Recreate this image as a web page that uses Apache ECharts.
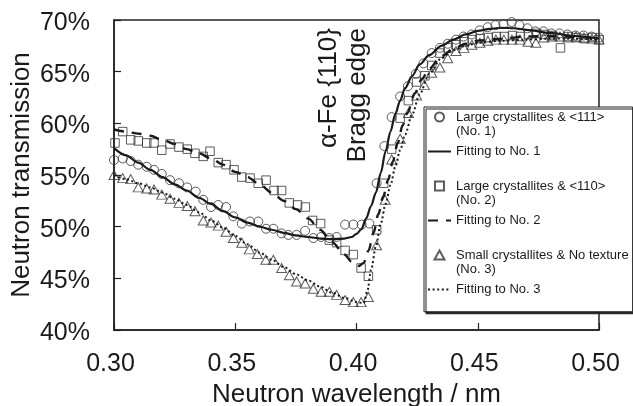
<!DOCTYPE html>
<html>
<head lang="en">
    <meta charset="UTF-8">
    <title>Neutron transmission</title>
    <style>
        html, body { margin: 0; padding: 0; background: #fff; }
        #chart { width: 633px; height: 406px; }
    </style>
</head>
<body>
<div id="chart"></div>
<script src="https://cdn.jsdelivr.net/npm/echarts@6/dist/echarts.min.js"></script>
<script>
    // measured points, wavelength in nm / transmission in %
    var no1Wavelength = [0.3000, 0.3036, 0.3069, 0.3100, 0.3135, 0.3165, 0.3197, 0.3231, 0.3268, 0.3302, 0.3337, 0.3368, 0.3400, 0.3430, 0.3462, 0.3492, 0.3527, 0.3561, 0.3595, 0.3627, 0.3657, 0.3691, 0.3719, 0.3753, 0.3788, 0.3822, 0.3854, 0.3888, 0.3918, 0.3953, 0.3987, 0.4021, 0.4053, 0.4083, 0.4115, 0.4145, 0.4180, 0.4212, 0.4245, 0.4276, 0.4310, 0.4344, 0.4376, 0.4410, 0.4441, 0.4475, 0.4508, 0.4541, 0.4573, 0.4606, 0.4640, 0.4672, 0.4705, 0.4738, 0.4771, 0.4804, 0.4837, 0.4870, 0.4903, 0.4936, 0.4969, 0.5000];
    var no1Transmission = [56.45, 56.6, 56.35, 56.0, 55.8, 55.5, 55.1, 54.5, 54.2, 53.8, 53.4, 52.6, 51.9, 52.1, 51.9, 51.0, 50.3, 50.5, 50.5, 49.8, 49.8, 49.35, 49.2, 49.2, 49.6, 48.9, 49.0, 48.9, 49.0, 50.2, 50.2, 50.2, 50.3, 54.2, 57.8, 60.6, 62.6, 63.6, 64.8, 65.8, 66.8, 67.3, 67.7, 68.1, 68.4, 68.6, 69.0, 69.3, 69.5, 69.6, 69.8, 69.5, 69.2, 68.9, 68.9, 68.7, 68.7, 68.6, 68.5, 68.5, 68.4, 68.3];

    var no2Wavelength = [0.3004, 0.3036, 0.3069, 0.3100, 0.3135, 0.3165, 0.3197, 0.3231, 0.3268, 0.3302, 0.3334, 0.3368, 0.3396, 0.3430, 0.3462, 0.3495, 0.3527, 0.3561, 0.3595, 0.3627, 0.3660, 0.3691, 0.3723, 0.3757, 0.3789, 0.3819, 0.3852, 0.3888, 0.3918, 0.3953, 0.3987, 0.4019, 0.4049, 0.4083, 0.4112, 0.4145, 0.4180, 0.4214, 0.4248, 0.4282, 0.4310, 0.4344, 0.4378, 0.4410, 0.4444, 0.4477, 0.4510, 0.4543, 0.4577, 0.4610, 0.4643, 0.4676, 0.4709, 0.4742, 0.4775, 0.4808, 0.4841, 0.4874, 0.4907, 0.4940, 0.4973, 0.5000];
    var no2Transmission = [58.1, 59.2, 58.4, 58.3, 58.1, 58.1, 57.4, 58.0, 57.7, 57.5, 57.1, 56.8, 57.3, 56.2, 56.0, 55.5, 54.8, 54.7, 54.2, 54.5, 53.5, 53.5, 52.3, 52.1, 51.9, 50.6, 50.3, 48.7, 48.45, 47.7, 47.3, 46.0, 45.2, 49.7, 54.2, 57.5, 60.5, 62.2, 64.0, 64.6, 65.6, 66.8, 67.3, 67.6, 67.9, 68.1, 68.2, 68.3, 68.4, 68.4, 68.5, 68.4, 68.6, 68.7, 68.6, 68.5, 67.3, 68.4, 68.3, 68.2, 68.3, 68.1];

    var no3Wavelength = [0.3000, 0.3036, 0.3069, 0.3100, 0.3135, 0.3165, 0.3197, 0.3231, 0.3268, 0.3302, 0.3334, 0.3368, 0.3400, 0.3430, 0.3462, 0.3492, 0.3527, 0.3558, 0.3591, 0.3626, 0.3657, 0.3691, 0.3723, 0.3753, 0.3788, 0.3822, 0.3854, 0.3888, 0.3918, 0.3953, 0.3987, 0.4019, 0.4049, 0.4083, 0.4118, 0.4145, 0.4180, 0.4214, 0.4248, 0.4280, 0.4310, 0.4344, 0.4376, 0.4410, 0.4443, 0.4476, 0.4509, 0.4542, 0.4575, 0.4608, 0.4641, 0.4674, 0.4707, 0.4740, 0.4773, 0.4806, 0.4839, 0.4872, 0.4905, 0.4938, 0.4971, 0.5000];
    var no3Transmission = [55.0, 54.7, 54.6, 53.8, 53.7, 53.6, 53.1, 52.7, 52.3, 52.0, 51.5, 50.6, 50.4, 50.1, 49.5, 48.9, 48.45, 47.8, 47.35, 46.8, 46.8, 46.0, 45.3, 44.7, 44.5, 44.0, 43.7, 43.7, 43.4, 42.9, 42.7, 42.7, 43.2, 48.2, 52.6, 56.5, 58.5, 61.0, 62.7, 63.7, 64.9, 65.4, 66.3, 67.0, 67.3, 67.6, 67.8, 68.0, 68.1, 68.1, 68.1, 68.1, 67.9, 67.8, 68.3, 68.4, 68.4, 68.3, 68.4, 68.3, 68.2, 68.1];

    // fitted curves
    var fit1Wavelength = [0.300, 0.305, 0.310, 0.315, 0.320, 0.325, 0.330, 0.335, 0.340, 0.345, 0.350, 0.355, 0.360, 0.365, 0.370, 0.375, 0.380, 0.385, 0.390, 0.395, 0.398, 0.400, 0.402, 0.404, 0.406, 0.408, 0.410, 0.412, 0.414, 0.416, 0.418, 0.420, 0.423, 0.426, 0.430, 0.435, 0.440, 0.445, 0.450, 0.455, 0.460, 0.465, 0.470, 0.480, 0.490, 0.500];
    var fit1Transmission = [57.6, 56.9, 56.2, 55.5, 54.8, 54.1, 53.5, 52.8, 52.2, 51.5, 50.9, 50.4, 50.0, 49.7, 49.4, 49.15, 49.0, 48.85, 48.8, 48.85, 49.0, 49.3, 49.75, 50.8, 52.0, 53.3, 55.2, 57.3, 59.2, 60.9, 62.2, 63.4, 64.6, 65.7, 66.6, 67.5, 68.1, 68.6, 68.95, 69.15, 69.25, 69.2, 69.05, 68.75, 68.45, 68.2];

    var fit2Wavelength = [0.300, 0.305, 0.310, 0.315, 0.320, 0.325, 0.330, 0.335, 0.340, 0.345, 0.350, 0.355, 0.360, 0.365, 0.370, 0.375, 0.380, 0.385, 0.390, 0.395, 0.398, 0.401, 0.403, 0.405, 0.407, 0.409, 0.411, 0.413, 0.415, 0.417, 0.419, 0.421, 0.424, 0.427, 0.430, 0.435, 0.440, 0.445, 0.450, 0.460, 0.470, 0.480, 0.490, 0.500];
    var fit2Transmission = [59.4, 59.2, 59.0, 58.8, 58.4, 58.0, 57.5, 57.1, 56.6, 56.0, 55.3, 54.8, 54.1, 53.3, 52.5, 51.7, 50.8, 49.7, 48.5, 47.3, 46.6, 46.2, 46.5, 47.7, 49.4, 51.2, 52.9, 54.5, 56.3, 58.1, 59.8, 61.0, 62.9, 64.3, 65.3, 66.5, 67.2, 67.7, 68.0, 68.2, 68.4, 68.45, 68.35, 68.2];

    var fit3Wavelength = [0.300, 0.305, 0.310, 0.315, 0.320, 0.325, 0.330, 0.335, 0.340, 0.345, 0.350, 0.355, 0.360, 0.365, 0.370, 0.375, 0.380, 0.385, 0.390, 0.395, 0.400, 0.403, 0.4045, 0.406, 0.408, 0.410, 0.412, 0.414, 0.416, 0.418, 0.420, 0.423, 0.426, 0.430, 0.435, 0.440, 0.445, 0.450, 0.460, 0.470, 0.480, 0.490, 0.500];
    var fit3Transmission = [55.0, 54.6, 54.2, 53.8, 53.3, 52.7, 52.1, 51.4, 50.6, 49.9, 49.1, 48.3, 47.5, 46.8, 46.1, 45.4, 44.8, 44.2, 43.6, 43.1, 42.7, 42.6, 43.8, 45.8, 48.1, 50.3, 52.2, 54.0, 55.8, 57.4, 58.9, 60.9, 62.8, 64.8, 66.3, 67.1, 67.5, 67.8, 68.0, 68.1, 68.2, 68.2, 68.1];

    var seriesNames = [
        'Large crystallites & <111>\n(No. 1)',
        'Fitting to No. 1',
        'Large crystallites & <110>\n(No. 2)',
        'Fitting to No. 2',
        'Small crystallites & No texture\n(No. 3)',
        'Fitting to No. 3'
    ];
    var xTicks = [0.30, 0.50, 0.05];   // min, max, step
    var yTicks = [40, 70, 5];

    var FONT = "'Liberation Sans', Arial, Helvetica, sans-serif";
    var INK = '#1a1a1a';

    function pairs(xs, ys) {
        return xs.map(function (x, i) { return [x, ys[i]]; });
    }

    function markerSeries(name, symbol, size, xs, ys) {
        return {
            name: name,
            type: 'scatter',
            symbol: symbol,
            symbolSize: size,
            clip: false,
            z: 3,
            itemStyle: { color: 'transparent', borderColor: '#333', borderWidth: 1 },
            data: pairs(xs, ys)
        };
    }

    function fitSeries(name, dash, width, xs, ys) {
        return {
            name: name,
            type: 'line',
            symbol: 'none',
            showSymbol: false,
            smooth: 0.3,
            smoothMonotone: 'x',
            z: 4,
            itemStyle: { color: INK },
            lineStyle: { color: INK, width: width, type: dash },
            data: pairs(xs, ys)
        };
    }

    // legend entries; the fit entries show only their line
    var legendData = seriesNames.map(function (name) {
        if (name.indexOf('Fitting') === 0) {
            return { name: name, itemStyle: { opacity: 0 } };
        }
        return { name: name };
    });

    var dom = document.getElementById("chart");
    var myChart = echarts.init(dom, null, { renderer: 'canvas' });
    var option = null;

    option = {
        animation: false,
        backgroundColor: '#fff',
        textStyle: { fontFamily: FONT },
        grid: {
            left: 114, right: 34, top: 20, bottom: 76,
            containLabel: false,
            outerBoundsMode: 'none',
            show: true, borderColor: '#222', borderWidth: 1.5
        },
        xAxis: {
            type: 'value',
            min: xTicks[0], max: xTicks[1], interval: xTicks[2],
            name: 'Neutron wavelength / nm',
            nameLocation: 'middle',
            nameGap: 52,
            nameMoveOverlap: false,
            nameTextStyle: { fontSize: 26, color: INK, fontFamily: FONT },
            axisLine: { lineStyle: { color: '#222', width: 1.5 } },
            axisTick: { inside: true, length: 7, lineStyle: { color: '#222', width: 1.2 } },
            axisLabel: {
                margin: 22, color: INK, fontFamily: FONT,
                formatter: function (v) { return '{t|' + v.toFixed(2) + '}'; },
                rich: { t: { fontSize: 25, fontFamily: FONT, color: INK, padding: [0, 7, 0, 0] } }
            },
            splitLine: { show: false }
        },
        yAxis: {
            type: 'value',
            min: yTicks[0], max: yTicks[1], interval: yTicks[2],
            name: 'Neutron transmission',
            nameLocation: 'middle',
            nameGap: 79,
            nameMoveOverlap: false,
            nameTextStyle: { fontSize: 26, color: INK, fontFamily: FONT },
            axisLine: { lineStyle: { color: '#222', width: 1.5 } },
            axisTick: { inside: true, length: 7, lineStyle: { color: '#222', width: 1.2 } },
            axisLabel: {
                margin: 24, color: INK, fontFamily: FONT,
                formatter: function (v) { return '{t|' + v + '%}'; },
                rich: { t: { fontSize: 25, fontFamily: FONT, color: INK, padding: [6, 0, 0, 0] } }
            },
            splitLine: { show: false }
        },
        legend: {
            orient: 'vertical',
            left: 424,
            top: 107,
            padding: [-11.75, 4, 15, 3],
            itemWidth: 23,
            itemHeight: 9,
            itemGap: 5.5,
            backgroundColor: '#fff',
            borderColor: '#222',
            borderWidth: 1,
            shadowColor: '#222',
            shadowOffsetX: 2,
            shadowOffsetY: 2,
            shadowBlur: 0,
            textStyle: { fontSize: 13, lineHeight: 14.5, color: INK, fontFamily: FONT },
            formatter: function (name) {
                // keep the symbol level with the first line of two-line entries
                return name.indexOf('\n') >= 0 ? '\n' + name : name;
            },
            data: legendData
        },
        graphic: [{
            type: 'text',
            x: 343.5,
            y: 28,
            rotation: Math.PI / 2,
            style: {
                text: 'α-Fe {110}\nBragg edge',
                fontSize: 26,
                fontFamily: FONT,
                fill: INK,
                align: 'right',
                verticalAlign: 'middle',
                lineHeight: 29
            }
        }],
        series: [
            markerSeries(seriesNames[0], 'circle', 9, no1Wavelength, no1Transmission),
            fitSeries(seriesNames[1], 'solid', 2.2, fit1Wavelength, fit1Transmission),
            markerSeries(seriesNames[2], 'path://M0,0H10V10H0Z', 8.5, no2Wavelength, no2Transmission),
            fitSeries(seriesNames[3], [10, 8], 2.4, fit2Wavelength, fit2Transmission),
            markerSeries(seriesNames[4], 'path://M5,0L10,9L0,9Z', [10, 9], no3Wavelength, no3Transmission),
            fitSeries(seriesNames[5], [2, 2.6], 2, fit3Wavelength, fit3Transmission)
        ]
    };

    if (option && typeof option === "object") {
        myChart.setOption(option, true);
    }
</script>
</body>
</html>
